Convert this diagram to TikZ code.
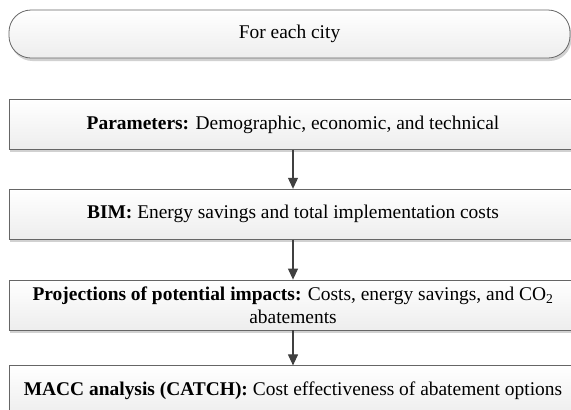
\documentclass[tikz,border=0pt]{standalone}
\usepackage{fontspec}
\setmainfont{Liberation Serif}
\usetikzlibrary{positioning,arrows.meta,shadows}

\begin{document}
\begin{tikzpicture}[x=1bp,y=-1bp,
	stage/.style={draw=black!60, line width=0.8pt, top color=white, bottom color=black!7,
		drop shadow={shadow xshift=1.5bp, shadow yshift=-3bp, fill=black!18, opacity=1},
		minimum width=568bp, minimum height=50bp, inner sep=0pt, align=center,
		font=\fontsize{19.5}{23}\selectfont},
	loopbox/.style={stage, rounded corners=22bp, minimum width=561bp, minimum height=48bp},
	flow/.style={draw=black!75, line width=1.1pt, -{Triangle[width=10bp,length=11bp]}}
]

\def\width{571}
\def\height{409}
\path [use as bounding box] (0,0) rectangle (\width,\height);

% LOOP
\node [loopbox] (city) at (289.5,34) {For each city};

% STAGES
\node [stage, anchor=north] (params) at (293,99) {\textbf{Parameters:} Demographic, economic, and technical};
\node [stage, below=39bp of params] (bim) {\textbf{BIM:} Energy savings and total implementation costs};
\node [stage, below=40bp of bim] (proj) {\textbf{Projections of potential impacts:} Costs, energy savings, and CO\textsubscript{2}\\abatements};
\node [stage, below=35bp of proj] (macc) {\textbf{MACC analysis (CATCH):} Cost effectiveness of abatement options};

% ARROWS
\draw [flow] (params) -- (bim);
\draw [flow] (bim) -- (proj);
\draw [flow] (proj) -- (macc);

\end{tikzpicture}
\end{document}
